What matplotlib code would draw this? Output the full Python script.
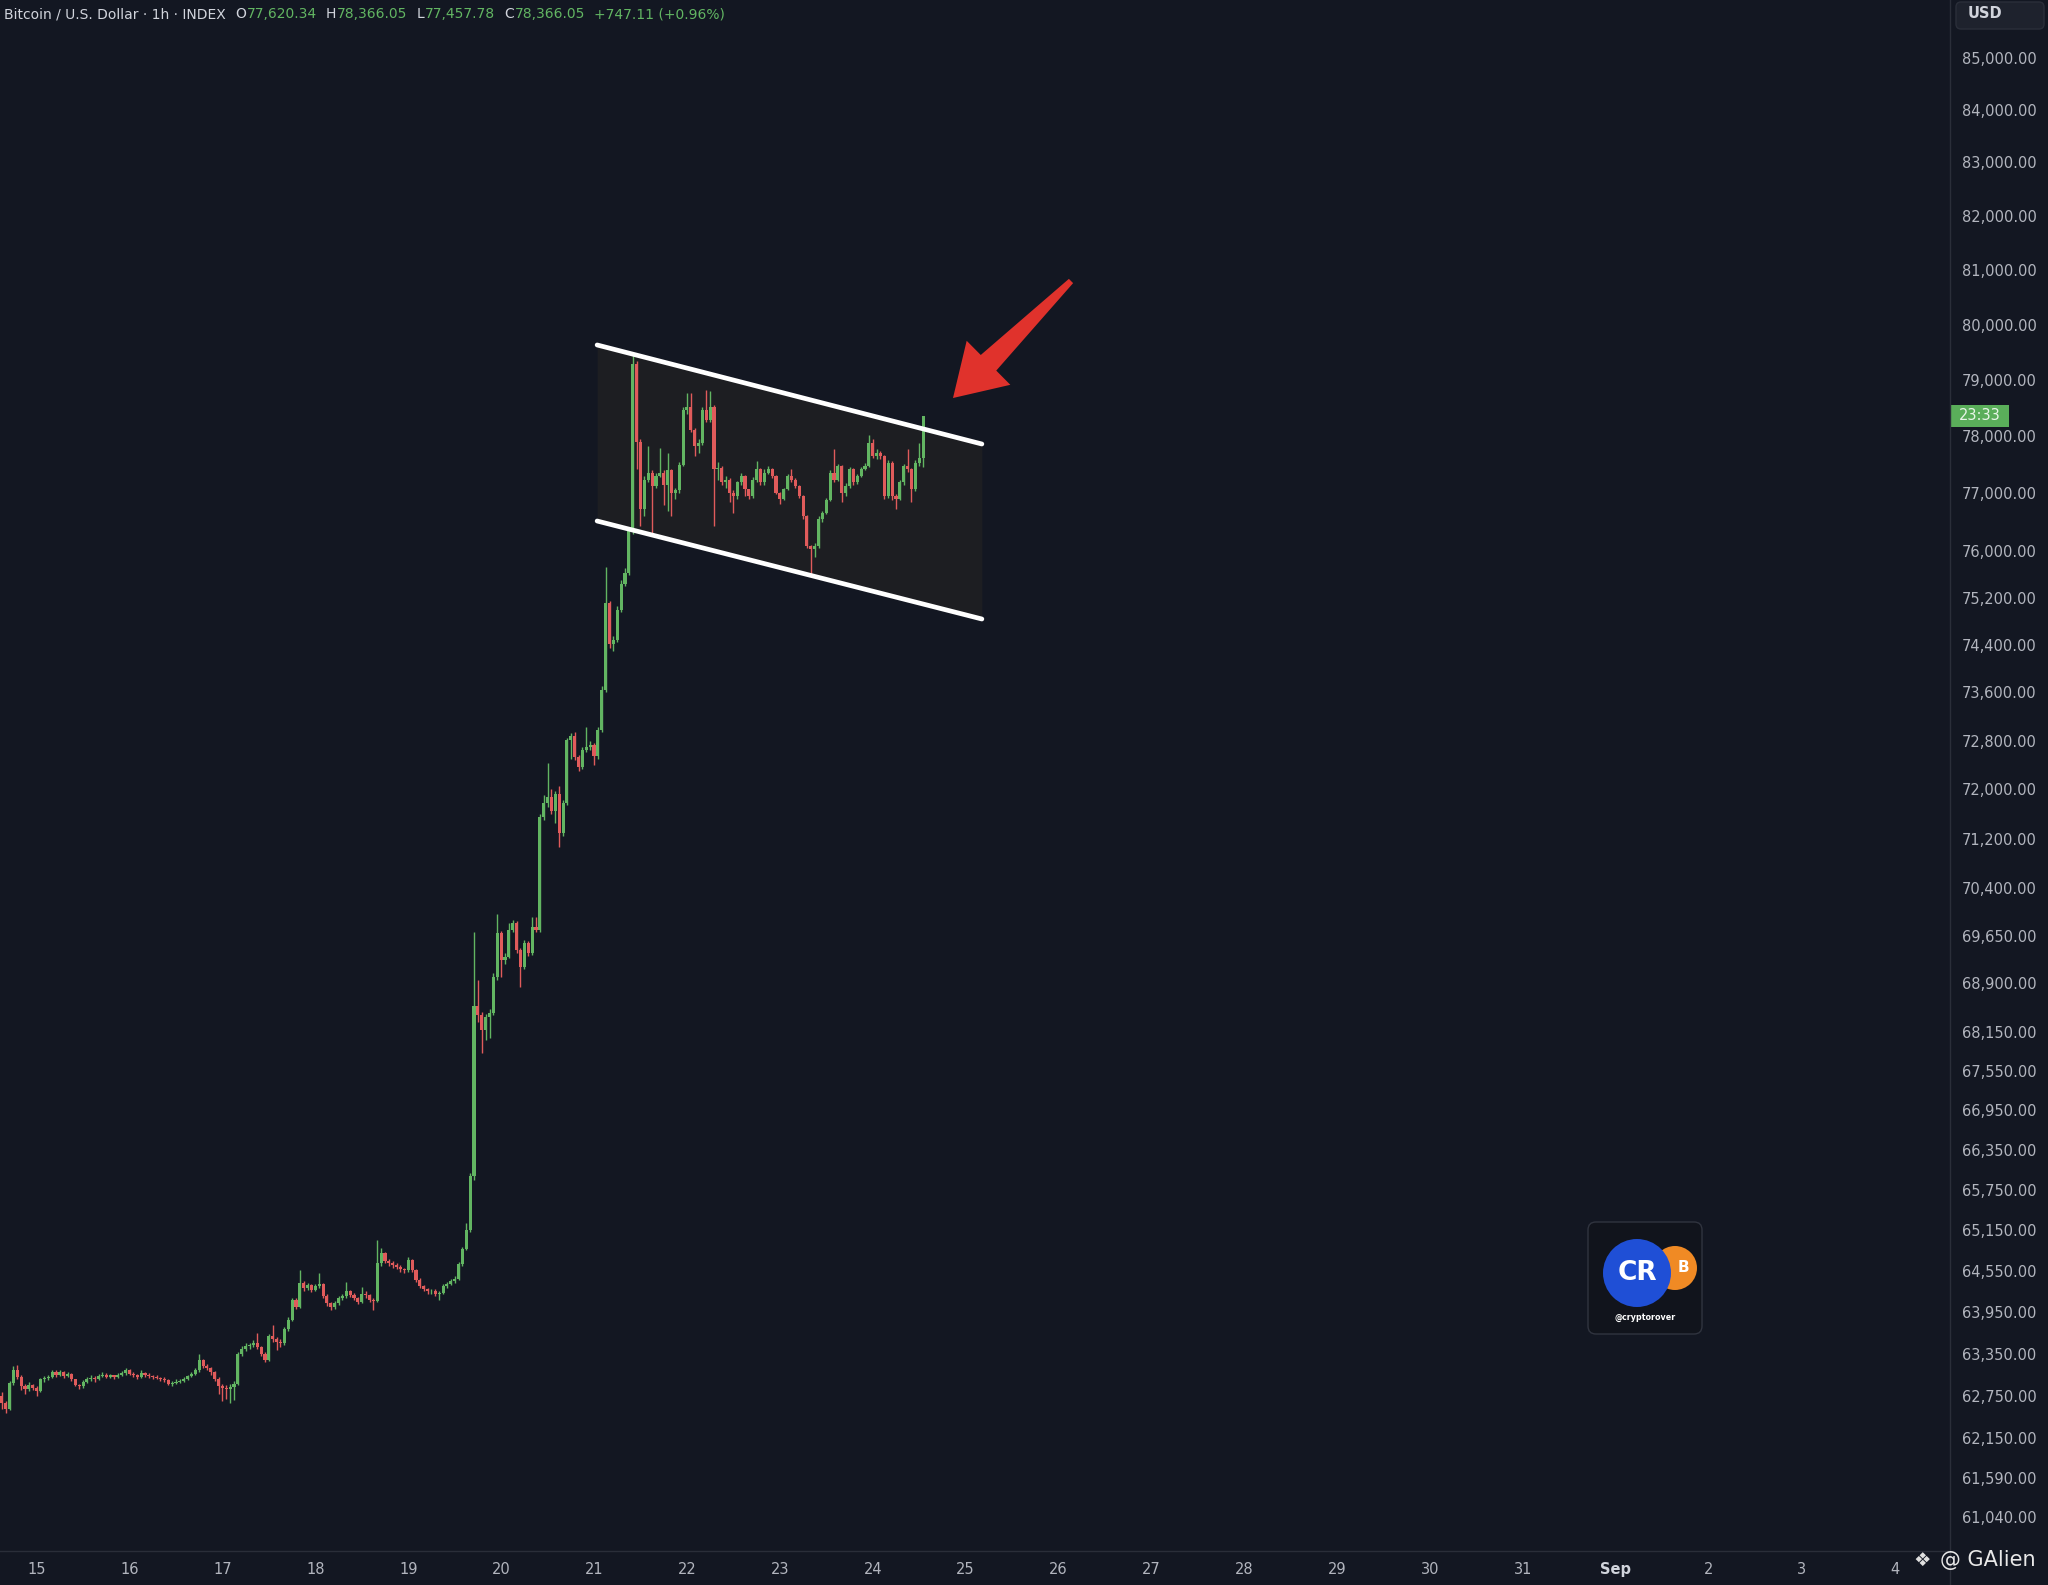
import numpy as np
import matplotlib.pyplot as plt
from matplotlib.patches import Polygon, Circle, FancyBboxPatch, Rectangle
from matplotlib.transforms import IdentityTransform

# hourly candles; x is hours from Aug 15 00:00, first candle is Aug 14 15:00
first_hour = -9
first_open = 62750

closes = [
    # Aug 14 (15:00 - 23:00)
    62650, 62560, 62930, 63120, 63020, 62880, 62850, 62900, 62860,
    # Aug 15
    62820, 62980, 63000, 63010, 63090, 63050, 63090, 63030, 63060, 62980, 62900, 62880,
    62950, 62980, 63000, 62990, 63030, 63050, 63020, 63040, 63010, 63050, 63070, 63120,
    # Aug 16
    63060, 63040, 63020, 63070, 63050, 63030, 63020, 63000, 62990, 62970, 62920, 62930,
    62950, 62960, 62990, 63030, 63060, 63110, 63260, 63180, 63140, 63080, 62990, 62880,
    # Aug 17
    62860, 62840, 62870, 62920, 63350, 63420, 63460, 63470, 63500, 63440, 63350, 63260,
    63600, 63560, 63520, 63500, 63700, 63840, 64130, 64030, 64370, 64300, 64340, 64270,
    # Aug 18
    64330, 64360, 64190, 64080, 64030, 64080, 64150, 64180, 64250, 64200, 64150, 64100,
    64220, 64200, 64130, 64110, 64660, 64810, 64700, 64660, 64640, 64610, 64580, 64560,
    # Aug 19
    64710, 64560, 64420, 64330, 64280, 64250, 64260, 64220, 64230, 64330, 64360, 64400,
    64430, 64650, 64870, 65150, 65950, 68540, 68400, 68180, 68380, 68440, 69000, 69690,
    # Aug 20
    69270, 69320, 69740, 69850, 69420, 69160, 69530, 69370, 69790, 69740, 71550, 71770,
    71880, 71650, 71930, 71290, 71770, 72810, 72870, 72530, 72370, 72650, 72700, 72720,
    # Aug 21
    72540, 72980, 73640, 75100, 74420, 74480, 74990, 75440, 75615, 76350, 79300, 77900,
    76720, 77240, 77360, 77130, 77300, 77360, 77150, 77400, 77000, 77050, 77500, 78475,
    # Aug 22
    78530, 78120, 77830, 77890, 78475, 78300, 78530, 77420, 77450, 77190, 77240, 77010,
    76950, 77190, 77300, 77070, 76950, 77240, 77420, 77190, 77360, 77420, 77300, 77010,
    # Aug 23
    76900, 77070, 77300, 77240, 77130, 76950, 76600, 76090, 76030, 76090, 76550, 76660,
    76890, 77360, 77240, 77480, 77010, 77130, 77420, 77190, 77300, 77420, 77480, 77890,
    # Aug 24 (00:00 - 13:00)
    77650, 77710, 77650, 76950, 77540, 76950, 76900, 77190, 77480, 77420, 77070, 77540,
    77620.34, 78366.05,
]

highs = [
    62800, 62680, 62960, 63170, 63190, 63040, 62910, 62940, 62920,
    62880, 63000, 63030, 63050, 63120, 63110, 63120, 63100, 63090, 63070, 62990, 62920,
    62970, 63010, 63040, 63030, 63060, 63080, 63070, 63060, 63050, 63070, 63100, 63150,
    63130, 63080, 63060, 63110, 63090, 63070, 63050, 63040, 63020, 63010, 62980, 62960,
    62980, 62990, 63010, 63050, 63080, 63140, 63350, 63280, 63200, 63160, 63100, 63010,
    62920, 62900, 62910, 62960, 63380, 63460, 63500, 63510, 63540, 63650, 63460, 63370,
    63630, 63770, 63590, 63560, 63730, 63880, 64160, 64150, 64565, 64400, 64380, 64360,
    64360, 64520, 64380, 64210, 64100, 64110, 64180, 64220, 64390, 64270, 64230, 64170,
    64320, 64250, 64220, 64160, 65000, 64880, 64830, 64720, 64690, 64660, 64630, 64600,
    64760, 64730, 64580, 64440, 64350, 64300, 64290, 64280, 64260, 64360, 64390, 64430,
    64470, 64680, 64900, 65250, 66000, 69700, 68950, 68450, 68420, 68500, 69060, 70000,
    69720, 69380, 69850, 69900, 69880, 69450, 69580, 69560, 69950, 69950, 71600, 71900,
    72430, 72000, 71980, 72050, 71820, 72850, 72920, 72950, 72560, 72700, 73030, 72800,
    72760, 73020, 73700, 75730, 75150, 74540, 75050, 75500, 75700, 76400, 79485, 79350,
    77950, 77300, 77830, 77400, 77350, 77800, 77400, 77700, 77420, 77100, 77550, 78520,
    78770, 78770, 78150, 77950, 78520, 78830, 78800, 78550, 77550, 77470, 77300, 77260,
    77050, 77220, 77350, 77320, 77080, 77280, 77560, 77440, 77420, 77480, 77440, 77320,
    77030, 77100, 77340, 77420, 77260, 77150, 76970, 76620, 76110, 76130, 76600, 76700,
    76920, 77400, 77770, 77520, 77500, 77180, 77460, 77440, 77340, 77460, 77540, 78030,
    77950, 77780, 77740, 77680, 77580, 77560, 76980, 77230, 77520, 77770, 77450, 77580,
    77890, 78366.05,
]

lows = [
    62560, 62500, 62540, 62900, 62990, 62830, 62780, 62820, 62830,
    62740, 62800, 62950, 62970, 63000, 63020, 63030, 63000, 63010, 62960, 62880, 62850,
    62860, 62930, 62960, 62950, 62970, 63010, 63000, 63000, 62990, 63000, 63030, 63050,
    63040, 63010, 62990, 63000, 63020, 63000, 62990, 62980, 62960, 62940, 62900, 62880,
    62910, 62930, 62950, 62970, 63010, 63040, 63090, 63150, 63110, 63050, 62960, 62780,
    62670, 62700, 62650, 62690, 62900, 63320, 63390, 63420, 63440, 63410, 63320, 63230,
    63240, 63520, 63400, 63450, 63480, 63680, 63820, 63990, 64010, 64260, 64270, 64240,
    64250, 64300, 64160, 64040, 63980, 64000, 64060, 64120, 64160, 64170, 64120, 64070,
    64080, 64160, 64100, 63980, 64090, 64620, 64660, 64620, 64600, 64580, 64540, 64520,
    64540, 64530, 64390, 64300, 64250, 64220, 64210, 64190, 64130, 64210, 64300, 64340,
    64370, 64410, 64620, 64850, 65120, 65900, 68300, 67820, 68020, 68050, 68400, 68950,
    69000, 69200, 69290, 69700, 69380, 68850, 69120, 69330, 69340, 69700, 69700, 71500,
    71720, 71600, 71450, 71070, 71250, 71740, 72500, 72480, 72300, 72340, 72620, 72640,
    72400, 72500, 72950, 73600, 74350, 74300, 74450, 74950, 75400, 75580, 76300, 77420,
    76430, 76600, 77200, 76260, 77100, 77280, 76800, 76700, 76600, 76900, 77000, 77480,
    78400, 78080, 77650, 77700, 77850, 78250, 78250, 76430, 77240, 77150, 77100, 76840,
    76660, 76900, 77150, 76950, 76900, 76920, 77200, 77150, 77150, 77330, 77260, 76980,
    76810, 76880, 77050, 77200, 77100, 76920, 76560, 76050, 75570, 75900, 76050, 76500,
    76640, 76870, 77200, 77220, 76840, 76950, 77100, 77150, 77170, 77280, 77400, 77460,
    77620, 77600, 77600, 76900, 76920, 76890, 76720, 76880, 77150, 77380, 76850, 77040,
    77480, 77457.78,
]

price_ticks = [85000, 84000, 83000, 82000, 81000, 80000, 79000, 78000, 77000, 76000,
               75200, 74400, 73600, 72800, 72000, 71200, 70400, 69650, 68900, 68150,
               67550, 66950, 66350, 65750, 65150, 64550, 63950, 63350, 62750, 62150,
               61590, 61040]
day_labels = ['15', '16', '17', '18', '19', '20', '21', '22', '23', '24', '25', '26',
              '27', '28', '29', '30', '31', 'Sep', '2', '3', '4']

# drawn channel: (hour, price) end points
chan_x = [144.8, 244.2]
chan_upper = [79635, 77866]
chan_lower = [76518, 74836]

change_text = "+747.11 (+0.96%)"
countdown = "23:33"

BG = '#131722'
UP = '#62b562'
DOWN = '#e05b5b'
TXT = '#b2b5be'
W, H = 2048, 1585

fig = plt.figure(figsize=(W / 100, H / 100), dpi=100, facecolor=BG)
ax = fig.add_axes([0, 1 - 1551 / H, 1950 / W, 1551 / H], facecolor=BG)

c = np.array(closes, dtype=float)
o = np.concatenate([[first_open], c[:-1]])
hi = np.array(highs, dtype=float)
lo = np.array(lows, dtype=float)
x = np.arange(len(c)) + first_hour
cols = np.where(c >= o, UP, DOWN)

# channel box
ax.fill_between(chan_x, chan_lower, chan_upper, color='#1d1e22', zorder=1, lw=0)

ax.vlines(x, lo, hi, colors=cols, lw=1.0, zorder=3)
ax.bar(x, np.abs(c - o), bottom=np.minimum(o, c), width=0.8, color=cols, lw=0, zorder=4)

ax.plot(chan_x, chan_upper, color='white', lw=3.4, solid_capstyle='round', zorder=5)
ax.plot(chan_x, chan_lower, color='white', lw=3.4, solid_capstyle='round', zorder=5)

ax.set_yscale('log')
ax.set_ylim(60577, 86116)
ax.set_xlim(-9.46, 494.3)
ax.set_yticks(price_ticks)
ax.set_yticklabels([f"{v:,.2f}" for v in price_ticks])
ax.yaxis.set_minor_locator(plt.NullLocator())
ax.yaxis.tick_right()
ax.set_xticks(np.arange(len(day_labels)) * 24)
ax.set_xticklabels(day_labels)
ax.tick_params(axis='y', length=0, pad=8.6, labelsize=10.5, labelcolor=TXT)
ax.tick_params(axis='x', length=0, pad=8, labelsize=10.5, labelcolor=TXT)
for lab in ax.get_xticklabels():
    if lab.get_text() == 'Sep':
        lab.set_fontweight('bold')
        lab.set_color('#d1d4dc')
for s in ax.spines.values():
    s.set_visible(False)

# panel separators
fig.add_artist(plt.Line2D([1950 / W, 1950 / W], [0, 1], color='#2a2e39', lw=1))
fig.add_artist(plt.Line2D([0, 1950 / W], [1 - 1551 / H, 1 - 1551 / H], color='#2a2e39', lw=1))

# red arrow pointing at the breakout
tip = np.array([953.0, 398.0])
tail = np.array([1071.0, 281.0])
u = (tip - tail) / np.hypot(*(tip - tail))
n = np.array([u[1], -u[0]])
base = tip - 50 * u
pts = [tail + 3 * n, base + 11 * n, base + 31 * n, tip, base - 31 * n, base - 11 * n, tail - 3 * n]
pts = [(p[0], H - p[1]) for p in pts]
fig.add_artist(Polygon(pts, closed=True, transform=IdentityTransform(), color='#e0322c', lw=0))

# header
fig.canvas.draw()
rend = fig.canvas.get_renderer()
parts = [("Bitcoin / U.S. Dollar · 1h · INDEX", '#d1d4dc', 9),
         ("O", '#d1d4dc', 1), (f"{o[-1]:,.2f}", UP, 9),
         ("H", '#d1d4dc', 1), (f"{hi[-1]:,.2f}", UP, 9),
         ("L", '#d1d4dc', 1), (f"{lo[-1]:,.2f}", UP, 9),
         ("C", '#d1d4dc', 1), (f"{c[-1]:,.2f}", UP, 9),
         (change_text, UP, 0)]
xp = 4
for s, col, gap in parts:
    t = fig.text(xp / W, 1 - 14 / H, s, color=col, fontsize=10, va='center', ha='left')
    bb = t.get_window_extent(renderer=rend)
    xp = bb.x1 + gap

# USD box
fig.add_artist(FancyBboxPatch((1956, H - 29), 88, 27, boxstyle='round,pad=0,rounding_size=5',
                              transform=IdentityTransform(), fc='#1e222d', ec='#2a2e39', lw=1))
fig.text(1968 / W, 1 - 14 / H, "USD", color='#d1d4dc', fontsize=10.5, fontweight='bold', va='center')

# countdown label at last price
yd = ax.transData.transform((0, c[-1]))[1]
fig.add_artist(Rectangle((1951, yd - 11), 58, 22, transform=IdentityTransform(), fc='#5aae5a', lw=0))
fig.text(1980 / W, yd / H, countdown, color='#e8f5e8', fontsize=10.5, ha='center', va='center')

# cryptorover badge
fig.add_artist(FancyBboxPatch((1588, H - 1334), 114, 112, boxstyle='round,pad=0,rounding_size=8',
                              transform=IdentityTransform(), fc='#11141c', ec='#30343f', lw=1))
fig.add_artist(Circle((1675, H - 1268), 22, transform=IdentityTransform(), fc='#f08a24', lw=0))
fig.add_artist(Circle((1637, H - 1273), 34, transform=IdentityTransform(), fc='#1f4fd6', lw=0))
fig.text(1637 / W, 1 - 1273 / H, "CR", color='white', fontsize=19, fontweight='bold', ha='center', va='center')
fig.text(1683 / W, 1 - 1268 / H, "B", color='white', fontsize=11, fontweight='bold', ha='center', va='center')
fig.text(1645 / W, 1 - 1317 / H, "@cryptorover", color='white', fontsize=5.8, fontweight='bold', ha='center', va='center')

# watermark
fig.text(1922 / W, 1 - 1560 / H, "❖", color='#e0e0e0', fontsize=14, ha='center', va='center')
fig.text(1940 / W, 1 - 1560 / H, "@ GAlien", color='#e8e8e8', fontsize=15, ha='left', va='center')

fig.savefig('out.png', dpi=100, facecolor=BG)
